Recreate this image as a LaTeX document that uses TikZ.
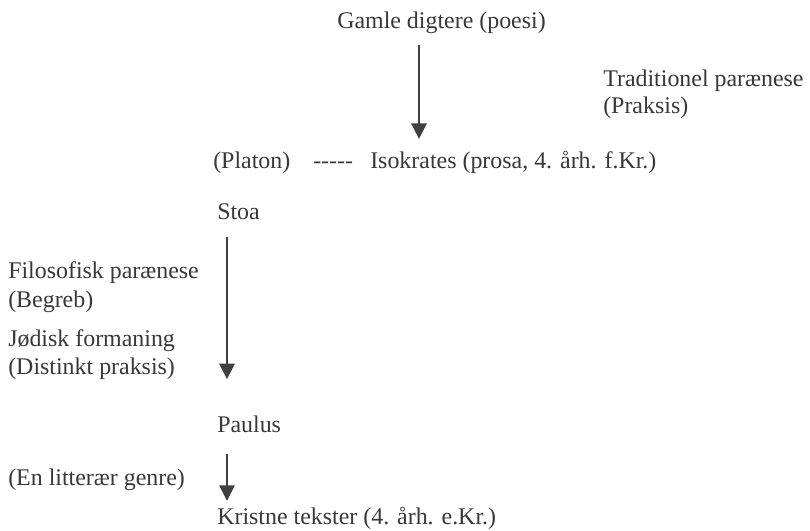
\documentclass[tikz,border=0pt]{standalone}
\usepackage{fontspec}
\setmainfont{Liberation Serif}
\usetikzlibrary{arrows.meta, positioning}

\begin{document}
\begin{tikzpicture}[
    x=0.025cm,
    y=-0.025cm,
    every node/.style={text=black!78, font=\fontsize{17}{19.5}\selectfont, inner sep=0pt, anchor=base west},
    flow/.style={draw=black!75, line width=1.1pt, -{Triangle[length=11pt, width=11pt]}}
]
   \useasboundingbox (0,0) rectangle (810,531);

   % Stations along the line
   \node (gamle)     at (337,29)  {Gamle digtere (poesi)};
   \node (platon)    at (213,169) {(Platon)};
   \node (dashes)    at (313,169) {-{}-{}-{}-{}-};
   \node (isokrates) at (370,169) {Isokrates (prosa, 4. årh. f.Kr.)};
   \node (stoa)      at (217,220) {Stoa};
   \node (paulus)    at (217,432) {Paulus};
   \node (kristne)   at (217,524) {Kristne tekster (4. årh. e.Kr.)};

   % Side notes
   \node (trad)     at (603,87)  {Traditionel parænese};
   \node (praksis)  at (603,114) {(Praksis)};
   \node (filos)    at (8,279)   {Filosofisk parænese};
   \node (begreb)   at (8,307)   {(Begreb)};
   \node (jodisk)   at (8,347)   {Jødisk formaning};
   \node (distinkt) at (8,374)   {(Distinkt praksis)};
   \node (genre)    at (8,485)   {(En litterær genre)};

   % Arrows
   \coordinate (lineA) at (419,0);
   \coordinate (lineB) at (227,0);
   \draw[flow, shorten <=7.8pt, shorten >=8.9pt] (gamle.south -| lineA) -- (isokrates.north -| lineA);
   \draw[flow, shorten <=12pt, shorten >=25.6pt] (stoa.south -| lineB) -- (paulus.north -| lineB);
   \draw[flow, shorten <=15pt, shorten >=4pt] (paulus.south -| lineB) -- (kristne.north -| lineB);
\end{tikzpicture}
\end{document}
